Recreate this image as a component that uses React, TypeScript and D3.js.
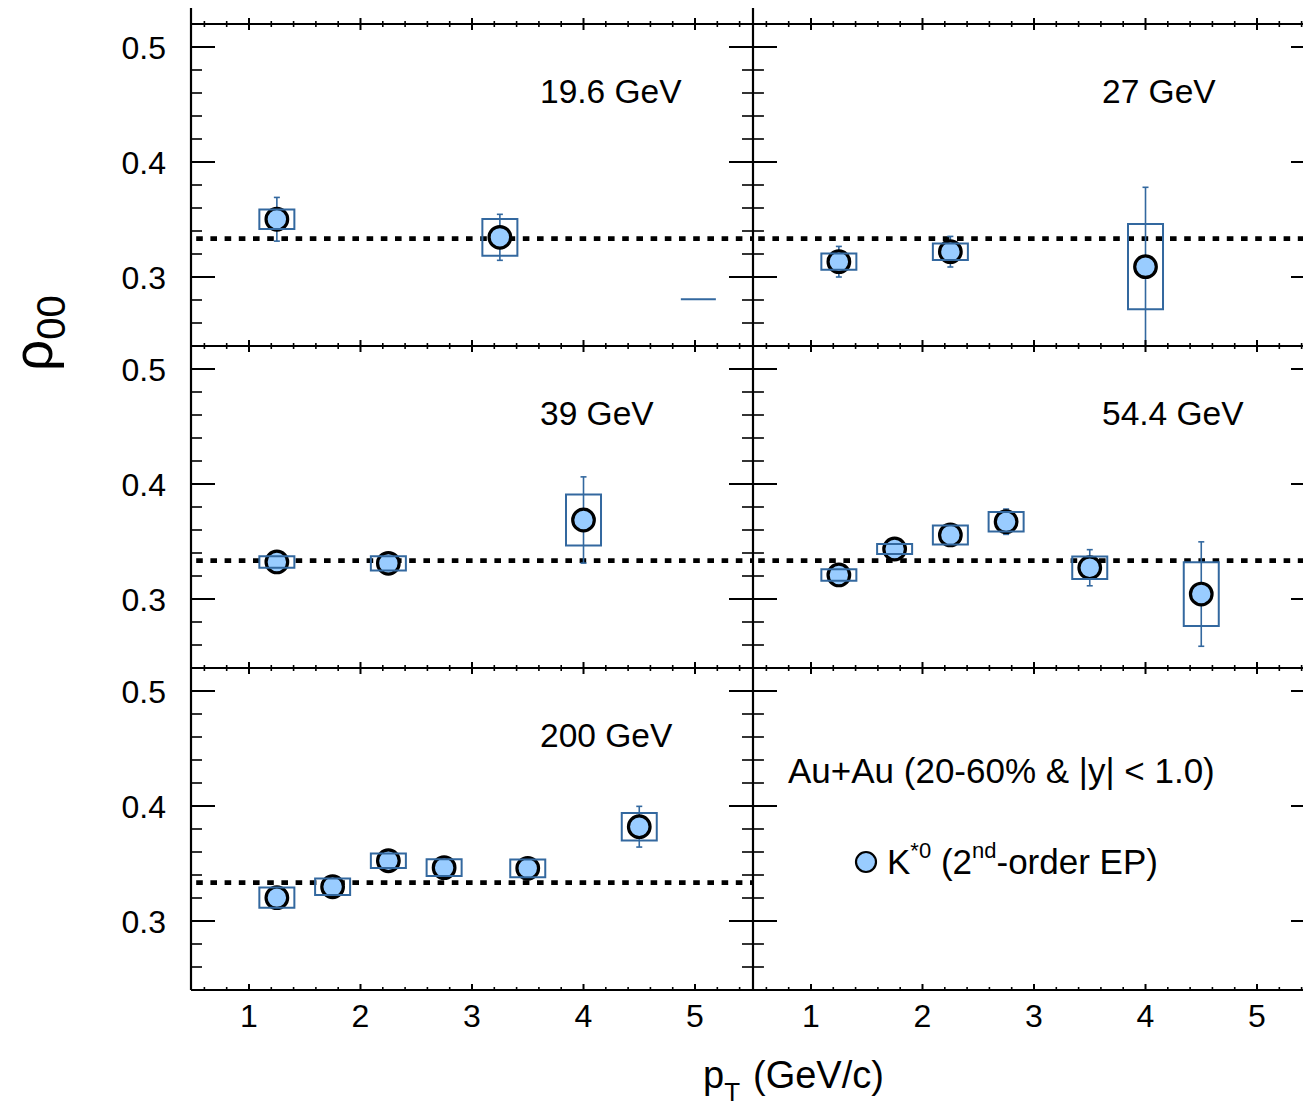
import React from "react";
import * as d3 from "d3";

// ---------- data ----------
const panelLabels = ["19.6 GeV", "27 GeV", "39 GeV", "54.4 GeV", "200 GeV"];

const pt19 = [1.25, 3.25];
const val19 = [0.3502, 0.3345];
const stat19 = [0.019, 0.02];
const sys19 = [0.0084, 0.016];
// degenerate (zero-height) systematic box seen in the 19.6 GeV panel
const strayPt19 = [5.03];
const strayVal19 = [0.2806];

const pt27 = [1.25, 2.25, 4.0];
const val27 = [0.3133, 0.322, 0.309];
const stat27 = [0.0133, 0.0133, 0.069];
const sys27 = [0.0071, 0.0072, 0.037];

const pt39 = [1.25, 2.25, 4.0];
const val39 = [0.3322, 0.331, 0.3687];
const stat39 = [0.006, 0.006, 0.0375];
const sys39 = [0.005, 0.0062, 0.0222];

const pt54 = [1.25, 1.75, 2.25, 2.75, 3.5, 4.5];
const val54 = [0.3209, 0.3435, 0.3557, 0.3672, 0.3272, 0.3043];
const stat54 = [0.006, 0.006, 0.008, 0.011, 0.0157, 0.0454];
const sys54 = [0.005, 0.0044, 0.0083, 0.0085, 0.0097, 0.0277];

const pt200 = [1.25, 1.75, 2.25, 2.75, 3.5, 4.5];
const val200 = [0.3203, 0.3298, 0.3524, 0.3464, 0.3458, 0.382];
const stat200 = [0.006, 0.006, 0.006, 0.006, 0.006, 0.0177];
const sys200 = [0.0088, 0.0072, 0.0064, 0.0072, 0.0077, 0.0119];

const xTicks = [1, 2, 3, 4, 5];
const yTicks = [0.3, 0.4, 0.5];
const refValue = 1 / 3;
const legendTitle = "Au+Au (20-60% & |y| < 1.0)";

// ---------- layout ----------
const W = 1303;
const H = 1108;
const PW = 562;
const PH = 322;
const colX = [191, 753];
const rowY = [24, 346, 668];
const BOX_HALF = 0.157;

const BLUE = "#33689f";
const FILL = "#99ccff";
const FONT = "'Liberation Sans', Arial, Helvetica, sans-serif";

const xs = d3.scaleLinear().domain([0.48, 5.52]).range([0, PW]);
const ys = d3.scaleLinear().domain([0.24, 0.52]).range([PH, 0]);

type Series = {
  pt: number[];
  val: number[];
  stat: number[];
  sys: number[];
};

const panels: { label: string; col: number; row: number; s: Series; stray?: { pt: number[]; val: number[] } }[] = [
  { label: panelLabels[0], col: 0, row: 0, s: { pt: pt19, val: val19, stat: stat19, sys: sys19 }, stray: { pt: strayPt19, val: strayVal19 } },
  { label: panelLabels[1], col: 1, row: 0, s: { pt: pt27, val: val27, stat: stat27, sys: sys27 } },
  { label: panelLabels[2], col: 0, row: 1, s: { pt: pt39, val: val39, stat: stat39, sys: sys39 } },
  { label: panelLabels[3], col: 1, row: 1, s: { pt: pt54, val: val54, stat: stat54, sys: sys54 } },
  { label: panelLabels[4], col: 0, row: 2, s: { pt: pt200, val: val200, stat: stat200, sys: sys200 } },
];

const minorX = d3.range(0.6, 5.45, 0.2).filter((v) => Math.abs(v - Math.round(v)) > 0.01);
const minorY = d3.range(0.24, 0.5201, 0.02).filter((v) => Math.abs(v * 10 - Math.round(v * 10)) > 0.01);

function Panel({ p, idx }: { p: (typeof panels)[number]; idx: number }) {
  const x0 = colX[p.col];
  const y0 = rowY[p.row];
  const s = p.s;
  return (
    <g transform={`translate(${x0},${y0})`}>
      <clipPath id={`clip${idx}`}>
        <rect x={0} y={0} width={PW} height={PH} />
      </clipPath>
      <g clipPath={`url(#clip${idx})`}>
        <line
          x1={0}
          x2={PW}
          y1={ys(refValue)}
          y2={ys(refValue)}
          stroke="#000"
          strokeWidth={4.6}
          strokeDasharray="6.6 7.6"
          strokeDashoffset={9}
        />
        {/* stat errors */}
        {s.pt.map((pt, i) => {
          const cx = xs(pt);
          const top = ys(s.val[i] + s.stat[i]);
          const bot = ys(s.val[i] - s.stat[i]);
          return (
            <g key={`e${i}`} stroke={BLUE} strokeWidth={1.6}>
              <line x1={cx} x2={cx} y1={top} y2={bot} />
              <line x1={cx - 3} x2={cx + 3} y1={top} y2={top} />
              <line x1={cx - 3} x2={cx + 3} y1={bot} y2={bot} />
            </g>
          );
        })}
        {/* markers */}
        {s.pt.map((pt, i) => (
          <circle key={`m${i}`} cx={xs(pt)} cy={ys(s.val[i])} r={10.8} fill={FILL} stroke="#000" strokeWidth={3.2} />
        ))}
        {/* systematic boxes */}
        {s.pt.map((pt, i) => {
          const xa = xs(pt - BOX_HALF);
          const xb = xs(pt + BOX_HALF);
          const ya = ys(s.val[i] + s.sys[i]);
          const yb = ys(s.val[i] - s.sys[i]);
          return (
            <path
              key={`b${i}`}
              d={`M${xa},${ya}L${xb},${ya}L${xb},${yb}L${xa},${yb}Z`}
              fill="none"
              stroke={BLUE}
              strokeWidth={2}
            />
          );
        })}
        {p.stray &&
          p.stray.pt.map((pt, i) => (
            <path
              key={`st${i}`}
              d={`M${xs(pt - BOX_HALF)},${ys(p.stray!.val[i])}L${xs(pt + BOX_HALF)},${ys(p.stray!.val[i])}`}
              stroke={BLUE}
              strokeWidth={2}
            />
          ))}
      </g>
      <text x={349} y={79} fontSize={33.5} fontFamily={FONT} fill="#000">
        {p.label}
      </text>
    </g>
  );
}

function Axes() {
  const els: React.ReactNode[] = [];
  const right = colX[1] + PW;
  // horizontal lines
  const hLines = [rowY[0], rowY[1], rowY[2], rowY[2] + PH];
  hLines.forEach((y, k) => {
    els.push(<line key={`h${k}`} x1={colX[0]} x2={right} y1={y} y2={y} stroke="#000" strokeWidth={2.2} />);
    const isBottom = k === 3;
    colX.forEach((cx0, c) => {
      xTicks.forEach((t) => {
        const x = cx0 + xs(t);
        els.push(
          <line key={`xt${k}-${c}-${t}`} x1={x} x2={x} y1={y - 6} y2={isBottom ? y : y + 6} stroke="#000" strokeWidth={2} />
        );
      });
      minorX.forEach((t, j) => {
        const x = cx0 + xs(t);
        els.push(
          <line key={`xm${k}-${c}-${j}`} x1={x} x2={x} y1={y - 3} y2={isBottom ? y : y + 3} stroke="#000" strokeWidth={1.6} />
        );
      });
    });
  });
  // vertical lines
  const vLines = [colX[0], colX[1], right];
  vLines.forEach((x, k) => {
    els.push(<line key={`v${k}`} x1={x} x2={x} y1={8} y2={rowY[2] + PH} stroke="#000" strokeWidth={2.2} />);
    const goRight = k < 2;
    const goLeft = k > 0;
    rowY.forEach((ry, r) => {
      yTicks.forEach((t) => {
        const y = ry + ys(t);
        els.push(
          <line key={`yt${k}-${r}-${t}`} x1={goLeft ? x - 24 : x} x2={goRight ? x + 24 : x} y1={y} y2={y} stroke="#000" strokeWidth={2} />
        );
      });
      minorY.forEach((t, j) => {
        const y = ry + ys(t);
        els.push(
          <line key={`ym${k}-${r}-${j}`} x1={goLeft ? x - 11 : x} x2={goRight ? x + 11 : x} y1={y} y2={y} stroke="#000" strokeWidth={1.6} />
        );
      });
    });
  });
  // y tick labels
  rowY.forEach((ry, r) => {
    yTicks.forEach((t) => {
      els.push(
        <text
          key={`yl${r}-${t}`}
          x={colX[0] - 25}
          y={ry + ys(t) + 11.5}
          fontSize={32}
          textAnchor="end"
          fontFamily={FONT}
        >
          {d3.format(".1f")(t)}
        </text>
      );
    });
  });
  // x tick labels
  colX.forEach((cx0, c) => {
    xTicks.forEach((t) => {
      els.push(
        <text key={`xl${c}-${t}`} x={cx0 + xs(t)} y={1027} fontSize={32} textAnchor="middle" fontFamily={FONT}>
          {t}
        </text>
      );
    });
  });
  return <g>{els}</g>;
}

export default function App() {
  return (
    <div style={{ position: "absolute", left: 0, top: 0, width: W, height: H, overflow: "hidden", background: "#fff" }}>
      <svg width={W} height={H} style={{ display: "block" }}>
        <rect x={0} y={0} width={W} height={H} fill="#fff" />
        {panels.map((p, i) => (
          <Panel key={i} p={p} idx={i} />
        ))}
        <Axes />
        {/* legend panel text */}
        <text x={788} y={783} fontSize={35} fontFamily={FONT}>
          {legendTitle}
        </text>
        <circle cx={866} cy={862} r={10} fill={FILL} stroke="#000" strokeWidth={2.2} />
        <text x={887} y={874} fontSize={35} fontFamily={FONT}>
          <tspan>K</tspan>
          <tspan fontSize={22} dy={-16}>*0</tspan>
          <tspan dy={16}> (2</tspan>
          <tspan fontSize={22} dy={-16}>nd</tspan>
          <tspan dy={16}>-order EP)</tspan>
        </text>
        {/* axis titles */}
        <text transform="translate(52,371) rotate(-90)" fontFamily={FONT}>
          <tspan fontSize={55}>ρ</tspan>
          <tspan fontSize={40} dy={13}>00</tspan>
        </text>
        <text x={703} y={1088} fontSize={38} fontFamily={FONT}>
          <tspan>p</tspan>
          <tspan fontSize={26} dy={13}>T</tspan>
          <tspan x={753} dy={-13}>(GeV/c)</tspan>
        </text>
      </svg>
    </div>
  );
}
